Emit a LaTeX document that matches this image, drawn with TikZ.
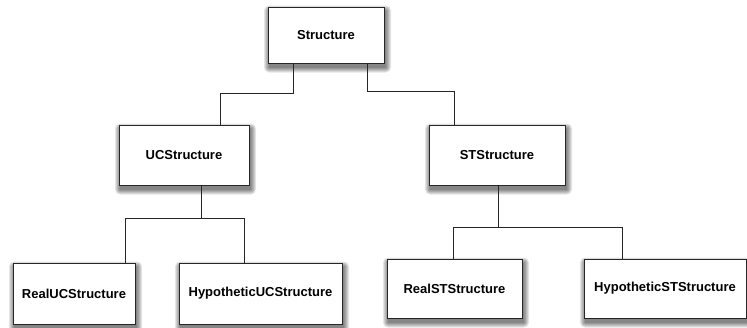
\documentclass[tikz,border=0pt]{standalone}
\usepackage{fontspec}
\setmainfont{Liberation Sans}
\pgfdeclarelayer{bg}
\pgfsetlayers{bg,main}
\definecolor{edge}{gray}{0.15}
% soft shadow under a node: stacked translucent fills of growing size
\newcommand\softshadow[1]{%
  \begin{pgfonlayer}{bg}
    \foreach \r in {0,1,...,5}{%
      \fill[black, opacity=0.1, rounded corners=\r pt]
        ([shift={(1.5-\r,4+\r)}]#1.south west) rectangle
        ([shift={(1.5+\r,4-\r)}]#1.north east);
    }
  \end{pgfonlayer}}
\begin{document}
\begin{tikzpicture}[x=1pt,y=-1pt,
  classbox/.style={draw=edge, line width=1pt, fill=white, rectangle,
    inner sep=0pt, font=\fontsize{13}{15}\selectfont\bfseries},
  link/.style={draw=edge, line width=0.9pt}]
\useasboundingbox (0,0) rectangle (747,327);

% class boxes
\node[classbox, minimum width=116pt, minimum height=56pt] (S)   at (326,35)    {Structure};
\node[classbox, minimum width=130pt, minimum height=60pt] (UC)  at (184,155)   {UCStructure};
\node[classbox, minimum width=136pt, minimum height=60pt] (ST)  at (497,155)   {STStructure};
\node[classbox, minimum width=122pt, minimum height=61pt] (RUC) at (74,293.5)  {RealUCStructure};
\node[classbox, minimum width=163pt, minimum height=61pt] (HUC) at (260.5,293.5) {HypotheticUCStructure};
\node[classbox, minimum width=135pt, minimum height=59pt] (RST) at (454.5,288.5) {RealSTStructure};
\node[classbox, minimum width=162pt, minimum height=59pt] (HST) at (665,288.5)   {HypotheticSTStructure};

\softshadow{S}
\softshadow{UC}
\softshadow{ST}
\softshadow{RUC}
\softshadow{HUC}
\softshadow{RST}
\softshadow{HST}

% hierarchy connectors
\draw[link] ([xshift=-33pt]S.south) -- ++(0,30) -| ([xshift=36pt]UC.north);
\draw[link] ([xshift=41pt]S.south) -- ++(0,28) -| ([xshift=-43pt]ST.north);

\draw[link] ([xshift=17pt]UC.south) -- ++(0,33) coordinate (ucj);
\draw[link] ([xshift=51pt]RUC.north) |- (ucj) -| ([xshift=-16.5pt]HUC.north);

\draw[link] ([xshift=1pt]ST.south) -- ++(0,42) coordinate (stj);
\draw[link] ([xshift=-1.5pt]RST.north) |- (stj) -| ([xshift=-43pt]HST.north);
\end{tikzpicture}
\end{document}
